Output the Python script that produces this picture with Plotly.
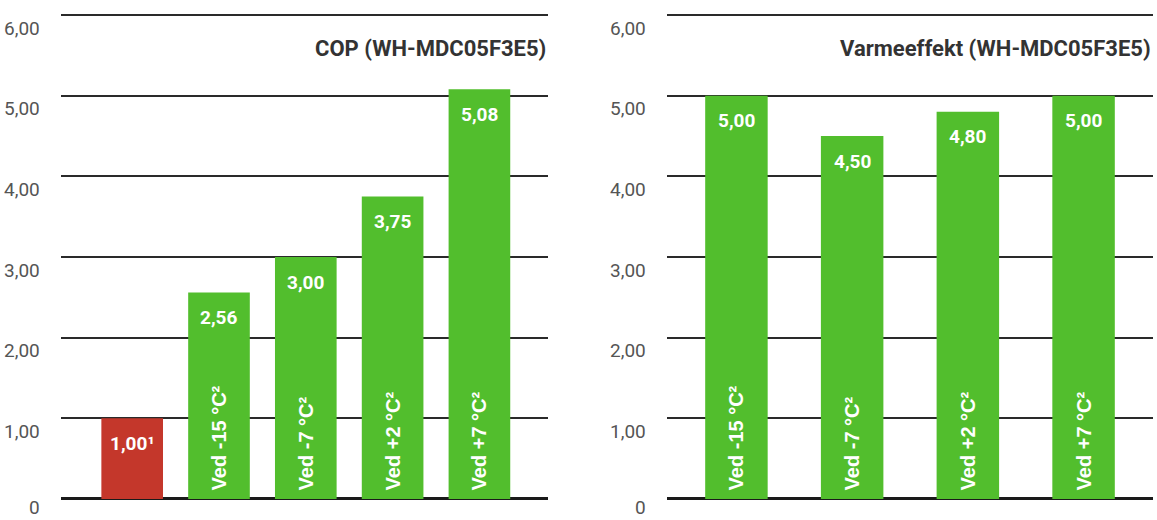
import plotly.graph_objects as go

# ---- data ----
cop_categories = ["", "Ved -15 °C²", "Ved -7 °C²", "Ved +2 °C²", "Ved +7 °C²"]
cop_values = [1.00, 2.56, 3.00, 3.75, 5.08]
cop_value_labels = ["1,00¹", "2,56", "3,00", "3,75", "5,08"]

heat_categories = ["Ved -15 °C²", "Ved -7 °C²", "Ved +2 °C²", "Ved +7 °C²"]
heat_values = [5.00, 4.50, 4.80, 5.00]
heat_value_labels = ["5,00", "4,50", "4,80", "5,00"]

y_tick_values = [0, 1, 2, 3, 4, 5, 6]
y_tick_text = ["0", "1,00", "2,00", "3,00", "4,00", "5,00", "6,00"]

cop_title = "COP (WH-MDC05F3E5)"
heat_title = "Varmeeffekt (WH-MDC05F3E5)"

# ---- style ----
GREEN = "#52be2d"
RED = "#c4372b"
NARROW = "Roboto, Liberation Sans, sans-serif"
WIDE = "Liberation Sans, Arial, sans-serif"

W, H = 1157, 520
left_dom = [61 / W, 548 / W]
right_dom = [667 / W, 1153 / W]
yr = [-0.03, 6.03]
y_dom = [18.6 / H, 507.4 / H]

fig = go.Figure()

cop_x = list(range(len(cop_values)))
heat_x = list(range(len(heat_values)))

def pad(labels):
    return [("\u00a0" + t) if t else t for t in labels]

fig.add_trace(go.Bar(
    x=cop_x, y=cop_values, width=0.71,
    marker=dict(color=[RED] + [GREEN] * (len(cop_values) - 1), line=dict(width=0)),
    text=pad(cop_categories), textposition="inside", insidetextanchor="start",
    textangle=-90, constraintext="none",
    textfont=dict(family=WIDE, size=20, color="white", weight="bold"),
    xaxis="x", yaxis="y", hoverinfo="skip", showlegend=False,
))
fig.add_trace(go.Bar(
    x=heat_x, y=heat_values, width=0.54,
    marker=dict(color=GREEN, line=dict(width=0)),
    text=pad(heat_categories), textposition="inside", insidetextanchor="start",
    textangle=-90, constraintext="none",
    textfont=dict(family=WIDE, size=20, color="white", weight="bold"),
    xaxis="x2", yaxis="y2", hoverinfo="skip", showlegend=False,
))

yaxis_common = dict(
    range=yr, domain=y_dom, tickvals=y_tick_values, showticklabels=False,
    showgrid=True, gridcolor="#2a2a2a", gridwidth=2,
    zeroline=True, zerolinecolor="#1a1a1a", zerolinewidth=3,
    showline=False, ticks="", fixedrange=True,
)
xaxis_common = dict(showgrid=False, zeroline=False, showticklabels=False,
                    ticks="", showline=False, fixedrange=True)

fig.update_layout(
    width=W, height=H,
    margin=dict(l=0, r=0, t=0, b=0),
    paper_bgcolor="white", plot_bgcolor="white",
    xaxis=dict(domain=left_dom, range=[-0.82, 4.79], **xaxis_common),
    xaxis2=dict(domain=right_dom, range=[-0.6, 3.6], anchor="y2", **xaxis_common),
    yaxis=dict(anchor="x", **yaxis_common),
    yaxis2=dict(anchor="x2", **yaxis_common),
    hovermode=False,
)

annotations = []
# y tick labels (shifted below their grid lines as in the reference)
for xa, ya in (("x", "y"), ("x2", "y2")):
    for v, t in zip(y_tick_values, y_tick_text):
        annotations.append(dict(
            xref=f"{xa} domain", yref=ya, x=0, y=v, xshift=-19,
            yshift=-13 if v > 0 else -9,
            xanchor="right", yanchor="middle", text=t, showarrow=False,
            font=dict(family=NARROW, size=19, color="#555555"),
        ))
# value labels inside bars
for xs, vals, labs, xa, ya in ((cop_x, cop_values, cop_value_labels, "x", "y"),
                               (heat_x, heat_values, heat_value_labels, "x2", "y2")):
    for x, v, t in zip(xs, vals, labs):
        annotations.append(dict(
            xref=xa, yref=ya, x=x, y=v, yshift=-25, xanchor="center", yanchor="middle",
            text=t, showarrow=False,
            font=dict(family=NARROW, size=19, color="white", weight="bold"),
        ))
# titles
for xa, ya, t in (("x", "y", cop_title), ("x2", "y2", heat_title)):
    annotations.append(dict(
        xref=f"{xa} domain", yref=ya, x=1, y=6, yshift=-33, xanchor="right", yanchor="middle",
        text=t, showarrow=False,
        font=dict(family=NARROW, size=22, color="#333333", weight="bold"),
    ))
fig.update_layout(annotations=annotations)

fig.write_html("out.html", config={"displayModeBar": False, "staticPlot": True},
               post_script="document.body.style.margin='0';")
